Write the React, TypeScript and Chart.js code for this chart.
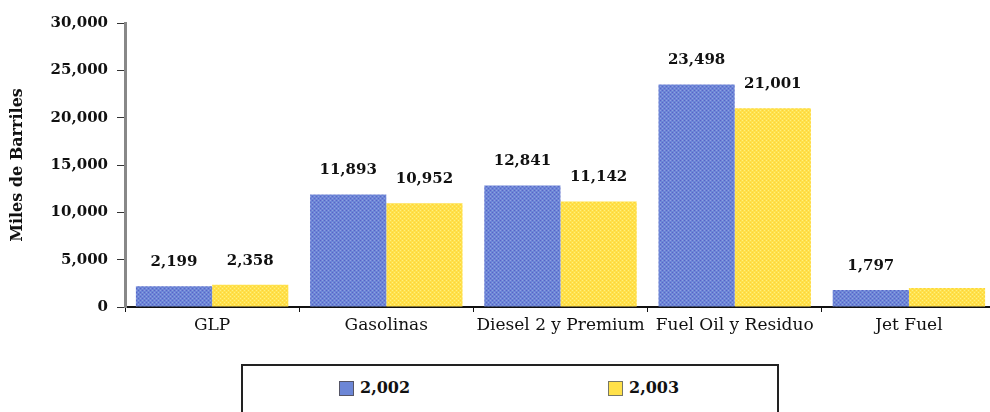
import React, { useEffect, useRef } from 'react';
import { Chart, registerables } from 'chart.js';

Chart.register(...registerables);

const categories = ['GLP', 'Gasolinas', 'Diesel 2 y Premium', 'Fuel Oil y Residuo', 'Jet Fuel'];
const series2002 = [2199, 11893, 12841, 23498, 1797];
const series2003 = [2358, 10952, 11142, 21001, 2000];
const labels2002 = ['2,199', '11,893', '12,841', '23,498', '1,797'];
const labels2003 = ['2,358', '10,952', '11,142', '21,001', ''];
const seriesNames = ['2,002', '2,003'];
const yTitle = 'Miles de Barriles';

const FONT = '"DejaVu Serif", "Liberation Serif", serif';

function makePattern(base: string, dot: string, dot2: string): CanvasPattern | string {
  const c = document.createElement('canvas');
  c.width = 4;
  c.height = 4;
  const ctx = c.getContext('2d');
  if (!ctx) return base;
  ctx.fillStyle = base;
  ctx.fillRect(0, 0, 4, 4);
  ctx.fillStyle = dot;
  ctx.fillRect(0, 0, 1, 1);
  ctx.fillRect(2, 2, 1, 1);
  ctx.fillStyle = dot2;
  ctx.fillRect(2, 0, 1, 1);
  ctx.fillRect(0, 2, 1, 1);
  const p = ctx.createPattern(c, 'repeat');
  return p || base;
}

const dataLabelPlugin = {
  id: 'barValueLabels',
  afterDatasetsDraw(chart: any) {
    const { ctx } = chart;
    const all = [labels2002, labels2003];
    ctx.save();
    ctx.font = `bold 15px ${FONT}`;
    ctx.fillStyle = '#111';
    ctx.textAlign = 'center';
    ctx.textBaseline = 'middle';
    chart.data.datasets.forEach((_: any, di: number) => {
      const meta = chart.getDatasetMeta(di);
      meta.data.forEach((bar: any, i: number) => {
        const t = all[di][i];
        if (!t) return;
        ctx.fillText(t, bar.x, bar.y - 24);
      });
    });
    ctx.restore();
  },
};

export default function App() {
  const ref = useRef<HTMLCanvasElement | null>(null);

  useEffect(() => {
    document.body.style.margin = '0';
    const canvas = ref.current;
    if (!canvas) return;
    const blue = makePattern('#6c86d6', '#5a62c8', '#8fa0e0');
    const yellow = makePattern('#ffe14a', '#ffd23a', '#fff080');
    const chart = new Chart(canvas, {
      type: 'bar',
      data: {
        labels: categories,
        datasets: [
          {
            label: seriesNames[0],
            data: series2002,
            backgroundColor: blue as any,
            borderWidth: 0,
            categoryPercentage: 0.875,
            barPercentage: 1,
          },
          {
            label: seriesNames[1],
            data: series2003,
            backgroundColor: yellow as any,
            borderWidth: 0,
            categoryPercentage: 0.875,
            barPercentage: 1,
          },
        ],
      },
      options: {
        animation: false,
        responsive: false,
        maintainAspectRatio: false,
        layout: { padding: { top: 23, right: 4, left: 0, bottom: 0 } },
        plugins: {
          legend: { display: false },
          tooltip: { enabled: false },
        },
        scales: {
          x: {
            grid: {
              drawOnChartArea: false,
              drawTicks: true,
              tickLength: 5,
              color: '#111',
              lineWidth: 1,
            },
            border: { display: true, color: '#111', width: 2 },
            ticks: {
              color: '#111',
              font: { family: FONT, size: 17 },
              padding: 3,
              maxRotation: 0,
              autoSkip: false,
            },
            afterFit: (s: any) => {
              s.height = 43;
            },
          },
          y: {
            min: 0,
            max: 30000,
            grid: {
              drawOnChartArea: false,
              drawTicks: true,
              tickLength: 8,
              color: '#333',
            },
            border: { display: true, color: '#888', width: 3, dash: [1, 1] },
            ticks: {
              stepSize: 5000,
              color: '#111',
              font: { family: FONT, size: 15, weight: 'bold' },
              padding: 9,
              callback: (v: any) => Number(v).toLocaleString('en-US'),
            },
            title: {
              display: true,
              text: yTitle,
              color: '#111',
              font: { family: FONT, size: 16, weight: 'bold' },
              padding: { top: 8, bottom: 4 },
            },
            afterFit: (s: any) => {
              s.width = 125;
            },
          },
        },
      },
      plugins: [dataLabelPlugin],
    });
    return () => chart.destroy();
  }, []);

  const legendText: React.CSSProperties = {
    position: 'absolute',
    top: 378,
    fontFamily: FONT,
    fontWeight: 'bold',
    fontSize: 16,
    color: '#111',
    lineHeight: '20px',
  };
  const sq = (left: number, bg: string, bd: string): React.CSSProperties => ({
    position: 'absolute',
    left,
    top: 381,
    width: 15,
    height: 15,
    background: bg,
    border: `1px solid ${bd}`,
    boxSizing: 'border-box',
  });

  return (
    <div style={{ position: 'relative', width: 990, height: 412, overflow: 'hidden', background: '#fff' }}>
      <canvas ref={ref} width={1000} height={350} style={{ position: 'absolute', left: 0, top: 0, width: 1000, height: 350 }} />
      <div
        style={{
          position: 'absolute',
          left: 241,
          top: 364,
          width: 538,
          height: 70,
          border: '2px solid #222',
          boxSizing: 'border-box',
        }}
      />
      <div style={sq(339, '#6c86d6', '#556')} />
      <div style={{ ...legendText, left: 360 }}>{seriesNames[0]}</div>
      <div style={sq(608, '#ffe14a', '#776')} />
      <div style={{ ...legendText, left: 629 }}>{seriesNames[1]}</div>
    </div>
  );
}
